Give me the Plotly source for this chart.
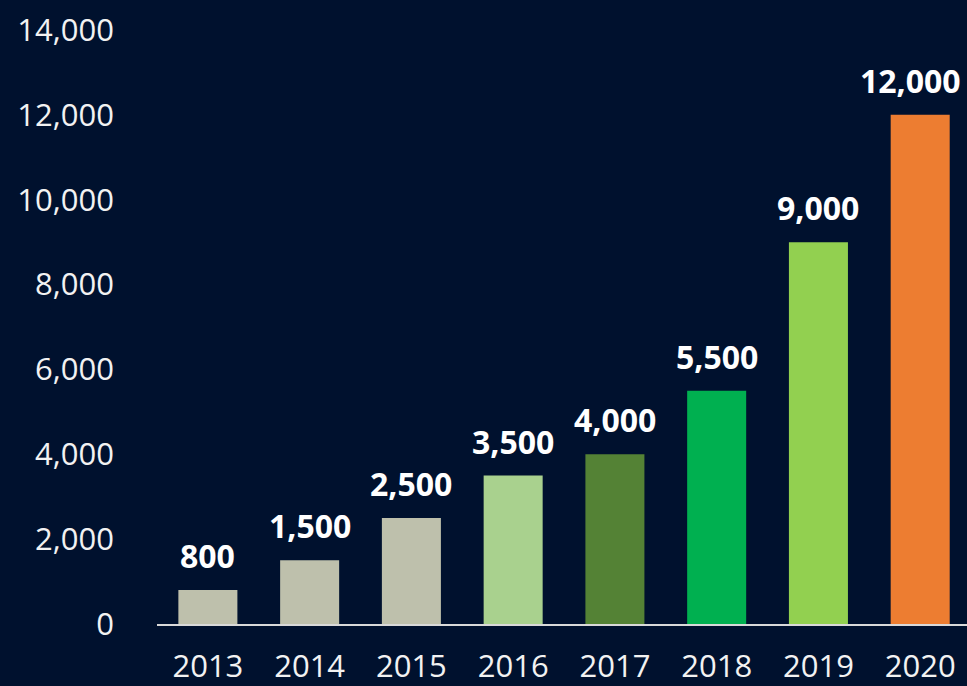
import plotly.graph_objects as go

years = ["2013", "2014", "2015", "2016", "2017", "2018", "2019", "2020"]
values = [800, 1500, 2500, 3500, 4000, 5500, 9000, 12000]
colors = ["#BEC0AC", "#BEC0AC", "#BEC0AC", "#A9D18E", "#548235", "#00B050", "#92D050", "#ED7D31"]
y_ticks = [0, 2000, 4000, 6000, 8000, 10000, 12000, 14000]

bg = "#00112E"
font_family = "Open Sans, Noto Sans, sans-serif"

fig = go.Figure()
fig.add_trace(go.Bar(
    x=list(range(len(years))), y=values, marker=dict(color=colors, line=dict(width=0)),
    width=0.58, hoverinfo="skip",
))
for i, v in enumerate(values):
    fig.add_annotation(x=i, y=v, text=f"<b>{v:,}</b>", showarrow=False,
                       yanchor="bottom", yshift=11,
                       xshift=-10 if i == len(values) - 1 else 0,
                       font=dict(family=font_family, size=32, color="#FFFFFF"))

fig.update_layout(
    width=967, height=686,
    paper_bgcolor=bg, plot_bgcolor=bg,
    margin=dict(l=157, r=0, t=30, b=60),
    showlegend=False,
    xaxis=dict(range=[-0.5, 7.46], showgrid=False, zeroline=False,
               tickvals=list(range(len(years))), ticktext=years,
               showline=True, linecolor="#D9D9D9", linewidth=2,
               ticks="", tickfont=dict(family=font_family, size=31, color="#F2F2F2"),
               ticklabelstandoff=14),
    yaxis=dict(range=[0, 14000], tickvals=y_ticks, tickformat=",",
               showgrid=False, zeroline=False, showline=False,
               tickfont=dict(family=font_family, size=31, color="#F2F2F2"),
               ticklabelstandoff=42),
)

fig.write_html("out.html", config={"displayModeBar": False},
               post_script="document.body.style.margin='0';document.body.style.background='#00112E';window.dispatchEvent(new Event('resize'));")
